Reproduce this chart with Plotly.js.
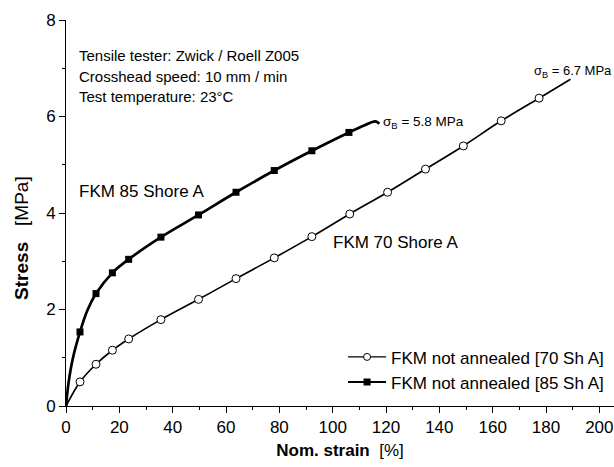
<!DOCTYPE html>
<html><head><meta charset="utf-8">
<script src="https://cdn.plot.ly/plotly-3.0.1.min.js"></script>
<style>html,body{margin:0;padding:0;background:#fff}</style>
</head><body><div id="chart" style="width:614px;height:467px"></div>
<script>
// FKM not annealed [70 Sh A] - measured marker points
const strain70 = [5.25, 11.25, 17.4, 23.5, 35.6, 49.7, 63.75, 78.1, 92.2, 106.4, 120.6, 134.8, 149.0, 163.2, 177.4];
const stress70 = [0.50, 0.865, 1.156, 1.39, 1.79, 2.21, 2.64, 3.07, 3.51, 3.98, 4.43, 4.91, 5.39, 5.91, 6.38];
// full curve of 70 Sh A (start, markers, break point)
const curveStrain70 = [0].concat(strain70, [189.2]);
const curveStress70 = [0].concat(stress70, [6.77]);

// FKM not annealed [85 Sh A] - measured marker points
const strain85 = [5.25, 11.25, 17.4, 23.5, 35.6, 49.7, 63.75, 78.1, 92.2, 106.1];
const stress85 = [1.535, 2.33, 2.76, 3.04, 3.50, 3.96, 4.43, 4.88, 5.29, 5.67];
// full curve of 85 Sh A
const curveStrain85 = [0, 1, 2.5, 5.25, 8].concat(strain85.slice(1), [112, 116, 117.5]);
const curveStress85 = [0, 0.5, 0.97, 1.535, 1.98].concat(stress85.slice(1), [5.82, 5.90, 5.85]);

const name70 = 'FKM not annealed [70 Sh A]';
const name85 = 'FKM not annealed [85 Sh A]';

const xTicks = [0, 20, 40, 60, 80, 100, 120, 140, 160, 180, 200];
const yTicks = [0, 2, 4, 6, 8];

const FONT = 'Liberation Sans, Arial, sans-serif';

const traces = [
  {x: curveStrain70, y: curveStress70, mode: 'lines', line: {color: '#000', width: 1.7, shape: 'spline'}, showlegend: false, hoverinfo: 'skip'},
  {x: curveStrain85, y: curveStress85, mode: 'lines', line: {color: '#000', width: 2.7, shape: 'spline'}, showlegend: false, hoverinfo: 'skip'},
  {x: strain70, y: stress70, mode: 'markers', marker: {symbol: 'circle', size: 8, color: '#fff', line: {color: '#000', width: 1}}, showlegend: false},
  {x: strain85, y: stress85, mode: 'markers', marker: {symbol: 'square', size: 7, color: '#000'}, showlegend: false},
  {x: [null], y: [null], mode: 'lines+markers', name: name70, line: {color: '#000', width: 1.2}, marker: {symbol: 'circle', size: 7, color: '#fff', line: {color: '#000', width: 1}}},
  {x: [null], y: [null], mode: 'lines+markers', name: name85, line: {color: '#000', width: 2}, marker: {symbol: 'square', size: 7, color: '#000'}}
];

const ann = (x, y, text, size, anchor) => ({x: x, y: y, xref: 'x', yref: 'y', text: text, showarrow: false, xanchor: anchor || 'left', yanchor: 'middle', font: {family: FONT, size: size, color: '#000'}});

const layout = {
  width: 614, height: 467,
  margin: {l: 66, r: 0, t: 20, b: 61},
  paper_bgcolor: '#fff', plot_bgcolor: '#fff',
  font: {family: FONT, size: 17, color: '#000'},
  xaxis: {
    range: [0, 205.5], tickvals: xTicks, ticks: 'outside', ticklen: 6, tickwidth: 1, tickcolor: '#000',
    showline: true, linecolor: '#000', linewidth: 1, showgrid: false, zeroline: false,
    minor: {dtick: 10, tick0: 0, ticks: 'outside', ticklen: 3, tickcolor: '#000', showgrid: false},
    tickfont: {size: 17},
    title: {text: '<b>Nom. strain</b>\u00A0 [%]', font: {size: 17}, standoff: 7}
  },
  yaxis: {
    range: [0, 8], tickvals: yTicks, ticks: 'outside', ticklen: 6, tickwidth: 1, tickcolor: '#000',
    showline: true, linecolor: '#000', linewidth: 1, showgrid: false, zeroline: false,
    minor: {dtick: 1, tick0: 0, ticks: 'outside', ticklen: 3, tickcolor: '#000', showgrid: false},
    tickfont: {size: 17}
  },
  legend: {x: 0.991, xanchor: 'right', y: 0.0146, yanchor: 'bottom', bgcolor: 'rgba(0,0,0,0)', font: {size: 17}, tracegroupgap: 0, itemwidth: 38},
  annotations: [
    {xref: 'paper', yref: 'y', x: -0.0825, y: 3.48, text: '<b>Stress</b>\u00A0\u00A0\u00A0[MPa]', textangle: -90, showarrow: false, xanchor: 'center', yanchor: 'middle', font: {family: FONT, size: 19, color: '#000'}},
    ann(4.0, 7.26, 'Tensile tester: Zwick / Roell Z005', 15),
    ann(4.0, 6.83, 'Crosshead speed: 10 mm / min', 15),
    ann(4.0, 6.41, 'Test temperature: 23°C', 15),
    ann(4.0, 4.45, 'FKM 85 Shore A', 17),
    ann(99.3, 3.38, 'FKM 70 Shore A', 17),
    ann(118.2, 5.87, 'σ<sub>B</sub> = 5.8 MPa', 13.5),
    ann(174.8, 6.93, 'σ<sub>B</sub> = 6.7 MPa', 13)
  ]
};

Plotly.newPlot('chart', traces, layout, {staticPlot: true, displayModeBar: false});
</script></body></html>
